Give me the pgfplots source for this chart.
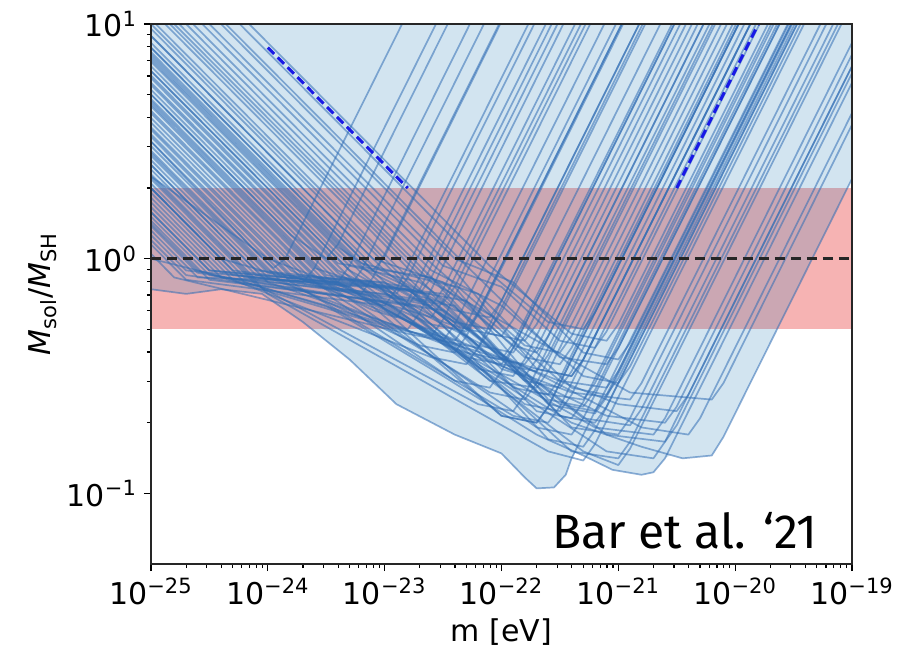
\documentclass[border=0pt]{standalone}
\usepackage{fontspec}
\setmainfont{DejaVu Sans}
\newfontfamily\fira{Fira Sans}
\usepackage{pgfplots}
\pgfplotsset{compat=1.18}
\definecolor{tabblue}{RGB}{31,119,180}
\definecolor{linecol}{RGB}{50,110,180}
\definecolor{bandred}{RGB}{246,179,179}
\definecolor{refblue}{RGB}{25,25,230}
\tikzset{gal/.style={linecol, draw opacity=0.55, line width=0.85pt, line join=round}}

\begin{document}
\begin{tikzpicture}
\begin{loglogaxis}[
  scale only axis, width=350.5pt, height=270pt,
  xmin=1e-25, xmax=1e-19, ymin=0.05, ymax=10,
  xtick={1e-25,1e-24,1e-23,1e-22,1e-21,1e-20,1e-19},
  xticklabels={10\textsuperscript{−25},10\textsuperscript{−24},10\textsuperscript{−23},10\textsuperscript{−22},10\textsuperscript{−21},10\textsuperscript{−20},10\textsuperscript{−19}},
  ytick={0.1,1,10},
  yticklabels={10\textsuperscript{−1},10\textsuperscript{0},10\textsuperscript{1}},
  tick align=outside, xtick pos=bottom, ytick pos=left,
  major tick length=3.5pt, minor tick length=2pt,
  every tick/.style={black, line width=0.6pt},
  axis line style={line width=0.7pt, black!85},
  tick label style={font=\fontsize{15}{18}\selectfont},
  label style={font=\fontsize{15}{18}\selectfont},
  xlabel={m [eV]},
  ylabel={\textit{M}\textsubscript{sol}/\textit{M}\textsubscript{SH}},
  ylabel style={xshift=0pt, yshift=-2pt},
  axis on top,
]
% band 0.5 - 2
\addplot[draw=none, fill=bandred] coordinates {(1e-25,0.5) (1e-19,0.5) (1e-19,2) (1e-25,2)} -- cycle;
% envelope of all curves (lowest curves, up to the top)
\addplot[draw=none, fill=tabblue, fill opacity=0.2] coordinates {
(1e-25,0.741) (2e-25,0.708) (3.98e-25,0.741) (8.91e-25,0.708) (2e-24,0.537) (5.01e-24,0.372)
(1.26e-23,0.240) (3.98e-23,0.178) (1e-22,0.148) (1.58e-22,0.117) (2e-22,0.105) (2.82e-22,0.106)
(3.55e-22,0.120) (3.98e-22,0.141) (4.27e-22,0.149) (5.01e-22,0.145) (8.91e-22,0.126) (1.58e-21,0.120)
(2e-21,0.123) (2.51e-21,0.141) (2.82e-21,0.146) (3.55e-21,0.141) (6.31e-21,0.145) (7.94e-21,0.174)
(1e-19,2.19) (1e-19,10) (1e-25,10)} -- cycle;

% curves entering from the top
\addplot[gal] coordinates {(6.92e-25,10) (7.94e-23,0.933) (3.98e-22,0.479) (7.94e-22,0.447) (1e-21,0.525) (1.91e-20,10)};
\addplot[gal] coordinates {(5.75e-25,10) (6.31e-23,0.955) (2.51e-22,0.537) (5.01e-22,0.501) (6.31e-22,0.589) (1.07e-20,10)};
\addplot[gal] coordinates {(4.37e-25,10) (5.01e-23,0.933) (3.16e-22,0.380) (7.94e-22,0.355) (1e-21,0.417) (2.40e-20,10)};
\addplot[gal] coordinates {(3.98e-25,10) (3.98e-23,1.0) (1.26e-22,0.794) (5.01e-22,0.398) (1e-21,0.372) (1.26e-21,0.437) (2.88e-20,10)};
\addplot[gal] coordinates {(3.16e-25,10) (3.98e-23,0.891) (2.00e-22,0.339) (3.98e-22,0.316) (5.01e-22,0.372) (1.35e-20,10)};
\addplot[gal] coordinates {(2.75e-25,10) (3.16e-23,0.933) (1e-22,0.759) (3.16e-22,0.447) (6.31e-22,0.417) (7.94e-22,0.490) (1.62e-20,10)};
\addplot[gal] coordinates {(2.29e-25,10) (2.51e-23,0.955) (1.58e-22,0.427) (3.16e-22,0.398) (3.98e-22,0.468) (8.51e-21,10)};
\addplot[gal] coordinates {(2.00e-25,10) (2.51e-23,0.891) (1e-22,0.631) (5.01e-22,0.316) (1e-21,0.295) (1.26e-21,0.347) (3.63e-20,10)};
\addplot[gal] coordinates {(1.74e-25,10) (2.51e-23,0.832) (3.16e-22,0.214) (6.31e-22,0.200) (7.94e-22,0.234) (3.39e-20,10)};
\addplot[gal] coordinates {(1.45e-25,10) (2.00e-23,0.851) (6.31e-23,0.708) (3.98e-22,0.282) (7.94e-22,0.263) (1e-21,0.309) (3.24e-20,10)};
\addplot[gal] coordinates {(1.32e-25,10) (1.58e-23,0.912) (2.00e-22,0.269) (5.01e-22,0.251) (6.31e-22,0.295) (2.14e-20,10)};
\addplot[gal] coordinates {(1.10e-25,10) (1.58e-23,0.832) (1e-22,0.339) (1.58e-22,0.316) (2.00e-22,0.372) (5.37e-21,10)};
\addplot[gal] coordinates {(1.58e-25,10) (2.51e-23,0.794) (1.26e-21,0.269) (6.31e-21,0.251) (7.94e-21,0.295) (1e-19,3.72)};

% curves starting on the left edge
\addplot[gal] coordinates {(1e-25,9.55) (1.26e-23,0.851) (2.51e-22,0.170) (5.01e-22,0.158) (6.31e-22,0.186) (3.39e-20,10)};
\addplot[gal] coordinates {(1e-25,10) (1.58e-23,0.794) (7.94e-22,0.178) (2.51e-21,0.166) (3.16e-21,0.195) (1e-19,6.17)};
\addplot[gal] coordinates {(1e-25,8.91) (1e-23,0.891) (6.31e-23,0.427) (1.26e-22,0.398) (1.58e-22,0.468) (3.39e-21,10)};
\addplot[gal] coordinates {(1e-25,8.91) (7.94e-24,1.0) (3.16e-23,0.794) (1.58e-22,0.380) (3.16e-22,0.355) (3.98e-22,0.417) (9.55e-21,10)};
\addplot[gal] coordinates {(1e-25,8.32) (7.94e-24,0.933) (3.98e-23,0.603) (7.94e-23,0.562) (1e-22,0.661) (1.51e-21,10)};
\addplot[gal] coordinates {(1e-25,7.94) (1e-23,0.794) (3.98e-22,0.151) (1e-21,0.141) (1.26e-21,0.166) (7.59e-20,10)};
\addplot[gal] coordinates {(1e-25,7.94) (7.94e-24,0.891) (1.58e-23,0.759) (2.00e-23,0.708) (2.51e-23,0.832) (3.02e-22,10)};
\addplot[gal] coordinates {(1e-25,7.59) (6.31e-24,0.955) (3.98e-23,0.759) (2.51e-22,0.251) (5.01e-22,0.234) (6.31e-22,0.275) (2.29e-20,10)};
\addplot[gal] coordinates {(1e-25,7.41) (6.31e-24,0.933) (7.94e-23,0.302) (2.00e-22,0.282) (2.51e-22,0.331) (7.59e-21,10)};
\addplot[gal] coordinates {(1e-25,7.24) (6.31e-24,0.912) (2.00e-23,0.692) (3.16e-23,0.646) (3.98e-23,0.759) (5.25e-22,10)};
\addplot[gal] coordinates {(1e-25,7.08) (3.98e-24,1.12) (7.94e-24,0.891) (1e-23,1.02) (9.77e-23,10)};
\addplot[gal] coordinates {(1e-25,6.92) (6.31e-24,0.871) (1.58e-22,0.240) (3.16e-22,0.224) (3.98e-22,0.263) (1.51e-20,10)};
\addplot[gal] coordinates {(1e-25,6.61) (5.01e-24,0.933) (2.00e-23,0.794) (7.94e-23,0.479) (1.58e-22,0.447) (2.00e-22,0.525) (3.80e-21,10)};
\addplot[gal] coordinates {(1e-25,6.31) (5.01e-24,0.891) (3.16e-23,0.537) (5.01e-23,0.501) (6.31e-23,0.589) (1.07e-21,10)};
\addplot[gal] coordinates {(1e-25,6.31) (6.31e-24,0.794) (5.01e-22,0.151) (1e-21,0.132) (1.26e-21,0.155) (8.13e-20,10)};
\addplot[gal] coordinates {(1e-25,6.03) (3.98e-24,0.955) (2.51e-23,0.832) (1.26e-22,0.427) (2.00e-22,0.398) (2.51e-22,0.468) (5.37e-21,10)};
\addplot[gal] coordinates {(1e-25,5.89) (5.01e-24,0.832) (1e-22,0.214) (2.00e-22,0.200) (2.51e-22,0.234) (1.07e-20,10)};
\addplot[gal] coordinates {(1e-25,5.62) (3.98e-24,0.891) (1.26e-23,0.676) (2.51e-23,0.631) (3.16e-23,0.741) (4.27e-22,10)};
\addplot[gal] coordinates {(1e-25,5.50) (3.98e-24,0.871) (5.01e-23,0.380) (1e-22,0.355) (1.26e-22,0.417) (3.02e-21,10)};
\addplot[gal] coordinates {(1e-25,5.25) (3.98e-24,0.832) (5.01e-23,0.661) (3.16e-22,0.302) (7.94e-22,0.282) (1e-21,0.331) (3.02e-20,10)};
\addplot[gal] coordinates {(1e-25,5.01) (3.98e-24,0.794) (6.31e-22,0.191) (2.00e-21,0.178) (2.51e-21,0.209) (1e-19,8.32)};
\addplot[gal] coordinates {(1e-25,5.01) (1.58e-24,1.26) (3.16e-24,1.0) (3.98e-24,1.15) (3.47e-23,10)};
\addplot[gal] coordinates {(1e-25,4.79) (3.16e-24,0.851) (1.58e-23,0.759) (7.94e-23,0.380) (1.58e-22,0.355) (2.00e-22,0.417) (4.79e-21,10)};
\addplot[gal] coordinates {(1e-25,4.68) (3.16e-24,0.832) (2.51e-23,0.479) (3.98e-23,0.447) (5.01e-23,0.525) (9.55e-22,10)};
\addplot[gal] coordinates {(1e-25,4.57) (2.51e-24,0.912) (7.94e-24,0.759) (1.26e-23,0.708) (1.58e-23,0.832) (1.91e-22,10)};
\addplot[gal] coordinates {(1e-25,4.47) (3.16e-24,0.794) (7.94e-22,0.214) (2.51e-21,0.200) (3.16e-21,0.234) (1e-19,7.41)};
\addplot[gal] coordinates {(1e-25,4.27) (2.51e-24,0.851) (2.00e-22,0.191) (3.98e-22,0.178) (5.01e-22,0.209) (2.40e-20,10)};
\addplot[gal] coordinates {(1e-25,4.17) (2.51e-24,0.832) (3.16e-23,0.708) (2.51e-22,0.240) (6.31e-22,0.219) (7.94e-22,0.257) (3.09e-20,10)};
\addplot[gal] coordinates {(1e-25,3.98) (2.51e-24,0.794) (7.94e-23,0.269) (1.58e-22,0.251) (2.00e-22,0.295) (6.76e-21,10)};
\addplot[gal] coordinates {(1e-25,3.80) (2.00e-24,0.851) (1.26e-23,0.759) (5.01e-23,0.501) (1e-22,0.468) (1.26e-22,0.550) (2.29e-21,10)};
\addplot[gal] coordinates {(1e-25,3.63) (2.00e-24,0.813) (1.58e-23,0.603) (2.51e-23,0.562) (3.16e-23,0.661) (4.79e-22,10)};
\addplot[gal] coordinates {(1e-25,3.55) (1.58e-24,0.891) (7.94e-24,0.603) (1.26e-23,0.562) (1.58e-23,0.661) (2.40e-22,10)};
\addplot[gal] coordinates {(1e-25,3.39) (1.58e-24,0.851) (1e-21,0.240) (3.16e-21,0.224) (3.98e-21,0.263) (1e-19,6.61)};
\addplot[gal] coordinates {(1e-25,3.31) (1.58e-24,0.832) (2.51e-23,0.708) (1.58e-22,0.302) (3.16e-22,0.282) (3.98e-22,0.331) (1.20e-20,10)};
\addplot[gal] coordinates {(1e-25,3.16) (1.58e-24,0.794) (1.26e-22,0.214) (2.51e-22,0.200) (3.16e-22,0.234) (1.35e-20,10)};
\addplot[gal] coordinates {(1e-25,3.16) (7.94e-25,1.07) (1.12e-24,0.912) (1.41e-24,1.0) (1.41e-23,10)};
\addplot[gal] coordinates {(1e-25,3.02) (1.26e-24,0.851) (1e-23,0.794) (3.98e-23,0.537) (7.94e-23,0.501) (1e-22,0.589) (1.70e-21,10)};
\addplot[gal] coordinates {(1e-25,2.88) (1.26e-24,0.813) (2.00e-23,0.427) (3.98e-23,0.398) (5.01e-23,0.468) (1.07e-21,10)};
\addplot[gal] coordinates {(1e-25,2.82) (1e-24,0.891) (6.31e-24,0.708) (7.94e-24,0.832) (9.55e-23,10)};
\addplot[gal] coordinates {(1e-25,2.75) (1e-24,0.871) (2.00e-23,0.724) (2.00e-22,0.224) (3.98e-22,0.209) (5.01e-22,0.245) (2.04e-20,10)};
\addplot[gal] coordinates {(1e-25,2.63) (1e-24,0.832) (3.98e-22,0.269) (1.26e-21,0.251) (1.58e-21,0.295) (5.37e-20,10)};
\addplot[gal] coordinates {(1e-25,2.51) (1e-24,0.794) (1e-23,0.537) (1.58e-23,0.501) (2.00e-23,0.589) (3.39e-22,10)};
\addplot[gal] coordinates {(1e-25,2.51) (7.94e-25,0.891) (7.94e-24,0.794) (6.31e-23,0.339) (1.26e-22,0.316) (1.58e-22,0.372) (4.27e-21,10)};
\addplot[gal] coordinates {(1e-25,2.40) (7.94e-25,0.851) (1e-23,0.676) (1.58e-23,0.631) (2.00e-23,0.741) (2.69e-22,10)};
\addplot[gal] coordinates {(1e-25,2.29) (7.94e-25,0.813) (3.98e-23,0.631) (3.98e-22,0.191) (1e-21,0.178) (1.26e-21,0.209) (6.03e-20,10)};
\addplot[gal] coordinates {(1e-25,2.24) (1e-24,0.708) (2.51e-22,0.151) (5.01e-22,0.138) (6.31e-22,0.162) (3.89e-20,10)};
\addplot[gal] coordinates {(1e-25,2.24) (1e-24,1.0) (6.31e-24,0.708) (6.31e-23,0.355) (3.98e-22,0.200) (1.58e-21,0.158) (3.55e-21,0.141) (6.31e-21,0.145) (7.94e-21,0.174) (1e-19,2.19)};
\addplot[gal] coordinates {(1e-25,2.19) (7.94e-25,0.776) (6.31e-23,0.240) (1.26e-22,0.224) (1.58e-22,0.263) (6.03e-21,10)};
\addplot[gal] coordinates {(1e-25,2.09) (6.31e-25,0.832) (1.58e-23,0.741) (1e-22,0.355) (2.00e-22,0.331) (2.51e-22,0.389) (6.46e-21,10)};
\addplot[gal] coordinates {(1e-25,2.00) (6.31e-25,0.794) (2.00e-22,0.339) (3.98e-22,0.316) (5.01e-22,0.372) (1.35e-20,10)};
\addplot[gal] coordinates {(1e-25,2.00) (3.98e-25,1.0) (2.00e-24,0.794) (2.51e-24,0.912) (2.75e-23,10)};
\addplot[gal] coordinates {(1e-25,2.00) (5.01e-25,0.891) (3.16e-24,0.794) (5.01e-24,0.759) (6.31e-24,0.891) (7.08e-23,10)};
\addplot[gal] coordinates {(1e-25,1.91) (5.01e-25,0.851) (6.31e-24,0.759) (3.16e-23,0.447) (6.31e-23,0.417) (7.94e-23,0.490) (1.62e-21,10)};
\addplot[gal] coordinates {(1e-25,1.82) (5.01e-25,0.813) (2.51e-23,0.380) (5.01e-23,0.355) (6.31e-23,0.417) (1.51e-21,10)};
\addplot[gal] coordinates {(1e-25,1.74) (3.98e-25,0.871) (2.51e-23,0.661) (3.16e-22,0.240) (6.31e-22,0.224) (7.94e-22,0.263) (3.02e-20,10)};
\addplot[gal] coordinates {(1e-25,1.66) (3.98e-25,0.832) (1e-23,0.708) (1.58e-21,0.191) (3.98e-21,0.178) (5.01e-21,0.209) (1e-19,4.17)};
\addplot[gal] coordinates {(1e-25,1.58) (3.16e-25,0.891) (3.98e-24,0.794) (5.01e-24,0.933) (5.37e-23,10)};
\addplot[gal] coordinates {(1e-25,1.58) (3.16e-25,0.891) (1e-23,0.759) (5.01e-23,0.398) (1e-22,0.372) (1.26e-22,0.437) (2.88e-21,10)};
\addplot[gal] coordinates {(1e-25,1.51) (3.16e-25,0.851) (3.16e-24,0.708) (3.98e-23,0.302) (7.94e-23,0.282) (1e-22,0.331) (3.02e-21,10)};
\addplot[gal] coordinates {(1e-25,1.45) (3.16e-25,0.813) (2.00e-23,0.631) (1.26e-22,0.282) (2.51e-22,0.263) (3.16e-22,0.309) (1.02e-20,10)};
\addplot[gal] coordinates {(1e-25,1.41) (2.51e-25,0.891) (1.26e-23,0.501) (2.51e-23,0.468) (3.16e-23,0.550) (5.75e-22,10)};
\addplot[gal] coordinates {(1e-25,1.38) (2.51e-25,0.871) (6.31e-24,0.676) (1e-23,0.631) (1.26e-23,0.741) (1.70e-22,10)};
\addplot[gal] coordinates {(1e-25,1.32) (2.51e-25,0.832) (3.98e-24,0.794) (2.51e-23,0.525) (5.01e-23,0.490) (6.31e-23,0.575) (1.10e-21,10)};
\addplot[gal] coordinates {(1e-25,1.26) (2.00e-25,0.891) (5.01e-24,0.759) (1e-22,0.214) (2.00e-22,0.200) (2.51e-22,0.234) (1.07e-20,10)};
\addplot[gal] coordinates {(1e-25,1.20) (2.00e-25,0.851) (3.16e-23,0.603) (5.01e-22,0.209) (1.26e-21,0.195) (1.58e-21,0.229) (6.92e-20,10)};
\addplot[gal] coordinates {(1e-25,1.15) (2.00e-25,0.813) (1e-23,0.631) (7.94e-22,0.151) (2.00e-21,0.141) (2.51e-21,0.166) (1e-19,6.61)};
\addplot[gal] coordinates {(1e-25,1.05) (1.58e-25,0.832) (1.58e-23,0.479) (3.16e-23,0.447) (3.98e-23,0.525) (7.59e-22,10)};
\addplot[gal] coordinates {(1e-25,1.0) (6.31e-25,0.794) (3.16e-24,0.631) (3.16e-23,0.316) (2e-22,0.178) (5.01e-22,0.145) (8.91e-22,0.126) (1.58e-21,0.120) (2e-21,0.123) (2.51e-21,0.141) (1e-19,5.62)};
\addplot[gal] coordinates {(1e-25,0.741) (2e-25,0.708) (3.98e-25,0.741) (8.91e-25,0.708) (2e-24,0.537) (5.01e-24,0.372) (1.26e-23,0.240) (3.98e-23,0.178) (1e-22,0.148) (1.58e-22,0.117) (2e-22,0.105) (2.82e-22,0.106) (3.55e-22,0.120) (3.98e-22,0.141) (2.82e-20,10)};

% reference lines
\addplot[black!85, line width=1.6pt, dash pattern=on 5pt off 3pt] coordinates {(1e-25,1) (1e-19,1)};
\addplot[refblue, line width=1.5pt, dash pattern=on 4.5pt off 2.5pt] coordinates {(1e-24,7.94) (1.58e-23,2.0)};
\addplot[refblue, line width=1.5pt, dash pattern=on 4.5pt off 2.5pt] coordinates {(3.16e-21,2.0) (1.58e-20,10)};

\node[anchor=base east, inner sep=0pt, font=\fira\fontsize{24}{28}\selectfont] at (rel axis cs:0.9515,0.028) {Bar et al. ‘21};
\end{loglogaxis}
\pgfresetboundingbox
\path ([shift={(-75.5pt,-42pt)}]current axis.south west) rectangle ([shift={(27.5pt,12pt)}]current axis.north east);
\end{tikzpicture}
\end{document}
